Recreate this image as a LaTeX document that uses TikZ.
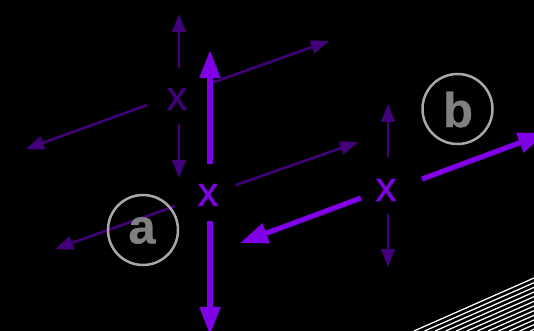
\documentclass[tikz,border=0pt]{standalone}
\usepackage{fontspec}
\setmainfont{Liberation Sans}
\newfontfamily\crossfont[FakeBold=0.6]{Liberation Sans}
\newfontfamily\letterfont[FakeBold=0.6]{Liberation Sans Bold}
\usetikzlibrary{arrows.meta}
\definecolor{bright}{HTML}{8000E8}
\definecolor{dim}{HTML}{42007A}
\definecolor{lab}{HTML}{808080}
\definecolor{ring}{HTML}{A8A8A8}
\tikzset{
  brightarrow/.style={draw=bright,line width=5.2pt,-{Triangle[length=28pt,width=20pt,fill=bright]}},
  dimarrow/.style={draw=dim,line width=2.5pt,-{Triangle[length=18pt,width=13.5pt,fill=dim]}},
  brightx/.style={text=bright,font=\crossfont\fontsize{42}{42}\selectfont,inner sep=0pt},
  dimx/.style={text=dim,font=\crossfont\fontsize{42}{42}\selectfont,inner sep=0pt},
  ringnode/.style={circle,draw=ring,line width=2.5pt,minimum size=70pt,inner sep=0pt},
  lettering/.style={text=lab,font=\letterfont\fontsize{49}{49}\selectfont,inner sep=0pt},
  hatch/.style={draw=white,line width=1.25pt}
}
\begin{document}
\begin{tikzpicture}[x=1pt,y=-1pt]
\fill[black] (0,0) rectangle (534,331);
\useasboundingbox (0,0) rectangle (534,331);
\begin{scope}
\clip (0,0) rectangle (534,331);
\foreach \d in {0,4.8,...,72}{
  \draw[hatch] (414+\d*2.2,331) -- (534+\d*2.2,278);
}
\end{scope}
\coordinate (a1s) at (179,68); \coordinate (a1e) at (179,14);
\coordinate (a2s) at (179,124); \coordinate (a2e) at (179,178);
\coordinate (a3s) at (214,82); \coordinate (a3e) at (329,41);
\coordinate (a4s) at (147,105); \coordinate (a4e) at (26,149);
\coordinate (b1s) at (236,185); \coordinate (b1e) at (358,142);
\coordinate (b2s) at (175,206); \coordinate (b2e) at (55,249);
\coordinate (c1s) at (388,157); \coordinate (c1e) at (388,104);
\coordinate (c2s) at (388,214); \coordinate (c2e) at (388,267);
\coordinate (B1s) at (210,164); \coordinate (B1e) at (210,50);
\coordinate (B2s) at (210,221); \coordinate (B2e) at (210,335);
\coordinate (B3s) at (361,198); \coordinate (B3e) at (240,243);
\coordinate (B4s) at (422,179); \coordinate (B4e) at (546,133);
\foreach \n in {a1,a2,a3,a4,b1,b2,c1,c2}{\draw[dimarrow] (\n s) -- (\n e);}
\foreach \n in {B1,B2,B3,B4}{\draw[brightarrow] (\n s) -- (\n e);}
\node[dimx] (xa) at (177,99) {x};
\node[brightx] (xb) at (208,195) {x};
\node[brightx] (xc) at (386,190) {x};
\node[ringnode] (a) at (143,230) {};
\node[ringnode] (b) at (457.5,109) {};
\node[lettering] (la) at (142,230.5) {a};
\node[lettering] (lb) at (458,109.5) {b};
\end{tikzpicture}
\end{document}
